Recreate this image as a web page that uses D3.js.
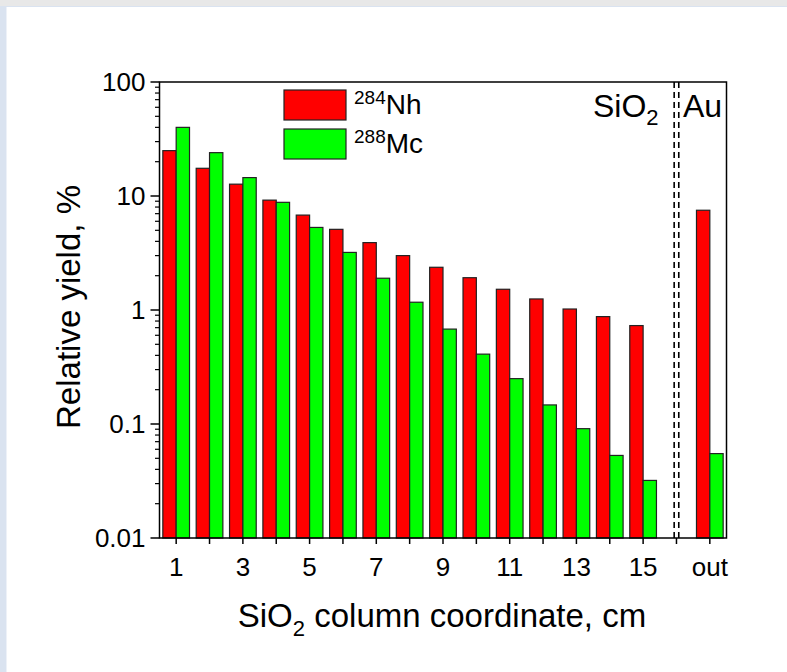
<!DOCTYPE html>
<html>
<head>
<meta charset="utf-8">
<script src="https://cdn.jsdelivr.net/npm/d3@7"></script>
<style>
  body { margin: 0; background: #dae3f0; }
  #chart { position: absolute; left: 0; top: 0; }
  text { font-family: Arial, "Liberation Sans", sans-serif; fill: #000; }
</style>
</head>
<body>
<div id="chart"></div>
<script>
// column coordinate (cm); "out" sits after the SiO2/Au boundary
var positions = [1, 2, 3, 4, 5, 6, 7, 8, 9, 10, 11, 12, 13, 14, 15, 17]
var nhYield = [25, 17.5, 12.7, 9.2, 6.8, 5.1, 3.9, 3.0, 2.37, 1.92, 1.52, 1.25, 1.02, 0.875, 0.73, 7.5]
var mcYield = [40, 24, 14.5, 8.8, 5.3, 3.2, 1.9, 1.17, 0.68, 0.41, 0.25, 0.147, 0.091, 0.053, 0.032, 0.055]
var xTickLabels = [{at: 1, text: "1"}, {at: 3, text: "3"}, {at: 5, text: "5"}, {at: 7, text: "7"},
	{at: 9, text: "9"}, {at: 11, text: "11"}, {at: 13, text: "13"}, {at: 15, text: "15"}, {at: 17, text: "out"}]
var yMajor = [0.01, 0.1, 1, 10, 100]
var yMajorLabels = ["0.01", "0.1", "1", "10", "100"]
var boundaryAt = 16

var W = 787, H = 672
// note: "top" is taken by window.top, so plot edges get their own names
var pLeft = 159.5, pRight = 726.5, pTop = 82, pBottom = 538

const svg = d3.select("#chart").append("svg")
	.attr("width", W)
	.attr("height", H)

// page frame: grey strip on top, bluish strip at left, white card
svg.append("rect").attr("x", 0).attr("y", 0).attr("width", W).attr("height", 6).attr("fill", "#e8e8e8")
svg.append("rect").attr("x", 0).attr("y", 6).attr("width", W).attr("height", 1).attr("fill", "#dae3f0")
svg.append("rect").attr("x", 0).attr("y", 6).attr("width", 6.5).attr("height", H).attr("fill", "#dae3f0")
svg.append("rect").attr("x", 6.5).attr("y", 7).attr("width", W).attr("height", H).attr("fill", "#fff")

var x = d3.scaleLinear().domain([0.5, 17.5]).range([pLeft, pRight])
var y = d3.scaleLog().domain([0.01, 100]).range([pBottom, pTop])
var barW = x(1.4) - x(1)

var bars = svg.append("g")
var rows = positions.map((p, i) => ({pos: p, nh: nhYield[i], mc: mcYield[i]}))

bars.selectAll("rect.nh")
	.data(rows)
	.join("rect")
	.attr("class", "nh")
	.attr("x", d => x(d.pos) - barW)
	.attr("y", d => y(d.nh))
	.attr("width", barW)
	.attr("height", d => y(0.01) - y(d.nh))
	.attr("fill", "#ff0000")
	.attr("stroke", "#222")
	.attr("stroke-width", 1.2)

bars.selectAll("rect.mc")
	.data(rows)
	.join("rect")
	.attr("class", "mc")
	.attr("x", d => x(d.pos))
	.attr("y", d => y(d.mc))
	.attr("width", barW)
	.attr("height", d => y(0.01) - y(d.mc))
	.attr("fill", "#00ff00")
	.attr("stroke", "#222")
	.attr("stroke-width", 1.2)

// dashed double line at the SiO2 / Au boundary
;[-2.3, 2.3].forEach(off => {
	svg.append("line")
		.attr("x1", x(boundaryAt) + off).attr("x2", x(boundaryAt) + off)
		.attr("y1", pTop).attr("y2", pBottom)
		.attr("stroke", "#000")
		.attr("stroke-width", 1.6)
		.attr("stroke-dasharray", "6,4")
})

// frame
svg.append("rect")
	.attr("x", pLeft).attr("y", pTop)
	.attr("width", pRight - pLeft).attr("height", pBottom - pTop)
	.attr("fill", "none")
	.attr("stroke", "#000")
	.attr("stroke-width", 1.5)

// x axis ticks
var xTicks = d3.range(1, 18)
svg.append("g").selectAll("line")
	.data(xTicks)
	.join("line")
	.attr("x1", d => x(d)).attr("x2", d => x(d))
	.attr("y1", pBottom).attr("y2", pBottom + 6)
	.attr("stroke", "#000")
	.attr("stroke-width", 1.5)

svg.append("g").selectAll("text")
	.data(xTickLabels)
	.join("text")
	.attr("x", d => x(d.at))
	.attr("y", pBottom + 38)
	.attr("text-anchor", "middle")
	.attr("font-size", 26)
	.text(d => d.text)

// y axis ticks
var yMinor = []
yMajor.slice(0, -1).forEach(v => {
	for (var k = 2; k <= 9; k++) yMinor.push(v * k)
})

svg.append("g").selectAll("line")
	.data(yMinor)
	.join("line")
	.attr("x1", pLeft - 4.5).attr("x2", pLeft)
	.attr("y1", d => y(d)).attr("y2", d => y(d))
	.attr("stroke", "#000")
	.attr("stroke-width", 1.2)

svg.append("g").selectAll("line")
	.data(yMajor)
	.join("line")
	.attr("x1", pLeft - 9).attr("x2", pLeft)
	.attr("y1", d => y(d)).attr("y2", d => y(d))
	.attr("stroke", "#000")
	.attr("stroke-width", 1.5)

svg.append("g").selectAll("text")
	.data(yMajor)
	.join("text")
	.attr("x", pLeft - 14)
	.attr("y", d => y(d) + 9)
	.attr("text-anchor", "end")
	.attr("font-size", 26)
	.text((d, i) => yMajorLabels[i])

// axis titles
var xt = svg.append("text")
	.attr("x", (236 + 648) / 2)
	.attr("y", 627)
	.attr("text-anchor", "middle")
	.attr("font-size", 33)
xt.append("tspan").text("SiO")
xt.append("tspan").attr("font-size", 22).attr("dy", 9).text("2")
xt.append("tspan").attr("dy", -9).text(" column coordinate, cm")

svg.append("text")
	.attr("transform", `translate(80, ${(pTop + pBottom) / 2 - 3}) rotate(-90)`)
	.attr("text-anchor", "middle")
	.attr("font-size", 33)
	.text("Relative yield, %")

// region labels
var sio = svg.append("text")
	.attr("x", 593)
	.attr("y", 117)
	.attr("font-size", 32)
sio.append("tspan").text("SiO")
sio.append("tspan").attr("font-size", 22).attr("dy", 8).text("2")

svg.append("text")
	.attr("x", 683)
	.attr("y", 117)
	.attr("font-size", 32)
	.text("Au")

// legend
var legend = [{name: "Nh", mass: "284", color: "#ff0000", y: 90}, {name: "Mc", mass: "288", color: "#00ff00", y: 129}]
var lg = svg.append("g").selectAll("g")
	.data(legend)
	.join("g")

lg.append("rect")
	.attr("x", 284).attr("y", d => d.y)
	.attr("width", 62).attr("height", 30)
	.attr("fill", d => d.color)
	.attr("stroke", "#222")
	.attr("stroke-width", 1.2)

var lt = lg.append("text")
	.attr("x", 354)
	.attr("y", d => d.y + 24)
	.attr("font-size", 28)
lt.append("tspan").attr("font-size", 19).attr("dy", -10).text(d => d.mass)
lt.append("tspan").attr("dy", 10).text(d => d.name)
</script>
</body>
</html>
